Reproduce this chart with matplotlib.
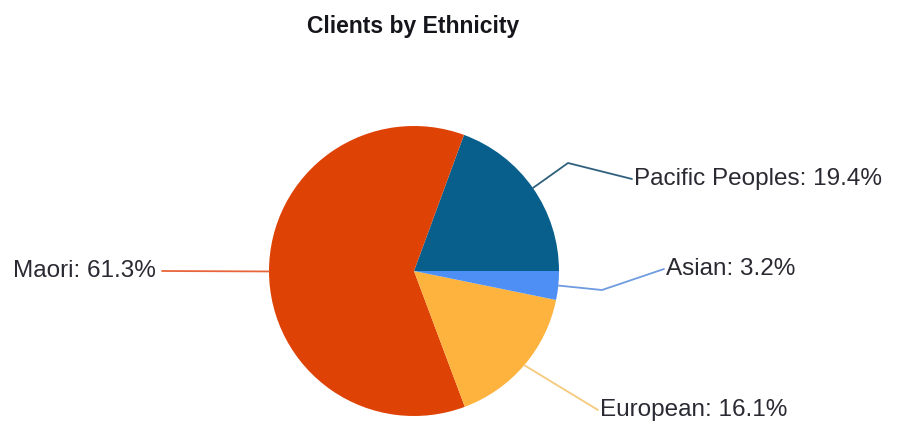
import numpy as np
import matplotlib as mpl
import matplotlib.pyplot as plt

mpl.rcParams["font.family"] = ["Liberation Sans", "DejaVu Sans"]

# data
categories = ["Pacific Peoples", "Maori", "European", "Asian"]
shares = [19.4, 61.3, 16.1, 3.2]
colors = ["#085f8c", "#de4205", "#fdb33e", "#4d8ff5"]
line_colors = ["#2f607c", "#e8653b", "#f6c97c", "#6f9be0"]

W, H = 906, 425
fig = plt.figure(figsize=(W / 100, H / 100), dpi=100)
ax = fig.add_axes([0, 0, 1, 1])

cx, cy, r = 414, H - 271, 145
wedges, _ = ax.pie(shares, colors=colors, startangle=0, counterclock=True,
                   center=(cx, cy), radius=r, frame=True,
                   wedgeprops=dict(linewidth=0))
ax.set_xlim(0, W)
ax.set_ylim(0, H)
ax.set_aspect("equal")
ax.axis("off")

# leader line elbows / label anchors (pixel coords, y from top)
elbows = [(568, 163), None, None, (602, 290)]
ends = [(632, 179), (162, 271), (598, 410), (664, 269)]
aligns = ["left", "right", "left", "left"]

for w, name, pct, lc, elb, end, ha in zip(wedges, categories, shares,
                                          line_colors, elbows, ends, aligns):
    mid = np.deg2rad((w.theta1 + w.theta2) / 2)
    sx, sy = cx + r * np.cos(mid), cy + r * np.sin(mid)
    xs, ys = [sx], [sy]
    if elb is not None:
        xs.append(elb[0]); ys.append(H - elb[1])
    xs.append(end[0]); ys.append(H - end[1])
    ax.plot(xs, ys, color=lc, linewidth=1.3, solid_capstyle="round")
    tx = end[0] + 2 if ha == "left" else end[0] - 6
    ax.text(tx, H - end[1], f"{name}: {pct}%", ha=ha, va="center",
            fontsize=17.5, color="#2a2a33")

fig.text(413 / W, 1 - 27 / H, "Clients by Ethnicity", ha="center",
         va="center", fontsize=16.5, fontweight="bold", color="#15151c")

fig.savefig("out.png", dpi=100)
